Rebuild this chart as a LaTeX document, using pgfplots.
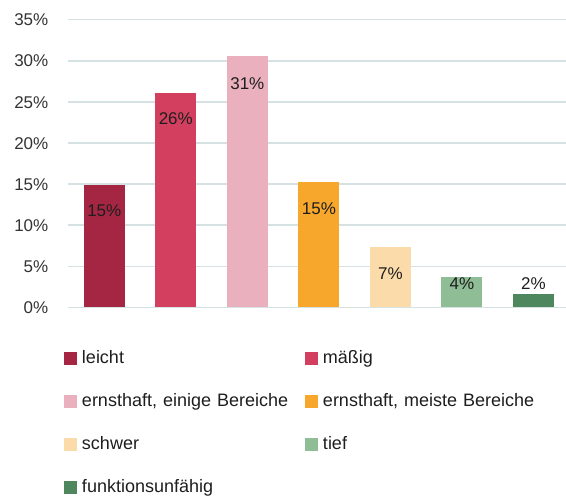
\documentclass[border=0pt]{standalone}
\usepackage{fontspec}
\setmainfont{Liberation Sans}
\usepackage{pgfplots}
\pgfplotsset{compat=1.18}
\definecolor{cA}{HTML}{A52642}
\definecolor{cB}{HTML}{D3405F}
\definecolor{cC}{HTML}{EBB0BE}
\definecolor{cD}{HTML}{F7A72C}
\definecolor{cE}{HTML}{FCDBAA}
\definecolor{cF}{HTML}{8FBE96}
\definecolor{cG}{HTML}{4E875E}
\definecolor{gridc}{HTML}{D5E1E2}
\definecolor{tickc}{HTML}{333333}
\definecolor{labc}{HTML}{1E1E1E}
\pgfplotsset{
  mybar/.style={ybar, bar width=41pt, bar shift=0pt, draw=none, fill=#1,
    legend image code/.code={\fill[##1, draw=none] (0pt,-6.5pt) rectangle (13pt,6.5pt);}},
}
\begin{document}
\begin{tikzpicture}
\useasboundingbox (0,0) rectangle (566pt,498pt);
\begin{axis}[
  at={(68.5pt,190.5pt)}, anchor=south west,
  scale only axis, width=497.5pt, height=287.8pt,
  xmin=-0.5, xmax=6.455, ymin=0, ymax=35,
  axis line style={draw=none},
  xtick=\empty,
  ytick={0,5,10,15,20,25,30,35},
  yticklabels={0\%,5\%,10\%,15\%,20\%,25\%,30\%,35\%},
  major tick length=0pt,
  ymajorgrids,
  grid style={gridc, line width=1.6pt},
  clip=false,
  yticklabel style={font=\fontsize{17}{17}\selectfont, text=tickc, anchor=east, inner sep=0pt, xshift=-20pt, text height=12.2pt, text depth=0pt},
  legend columns=2,
  legend cell align=left,
  legend style={at={(axis description cs:-0.00905,-0.1487)}, anchor=north west,
    draw=none, fill=none, inner sep=0pt, outer sep=0pt,
    row sep=25.6pt, column sep=5pt,
    font=\fontsize{18}{20}\selectfont, text=labc,
    nodes={inner sep=0pt, text width=223pt, align=left, text height=13pt, text depth=4.4pt, anchor=west},
    /tikz/every even column/.append style={column sep=0pt}},
]
\addplot[mybar=cA] coordinates {(0,14.9)};
\addlegendentry{leicht}
\addplot[mybar=cB] coordinates {(1,26.1)};
\addlegendentry{mäßig}
\addplot[mybar=cC] coordinates {(2,30.6)};
\addlegendentry{ernsthaft, einige Bereiche}
\addplot[mybar=cD] coordinates {(3,15.3)};
\addlegendentry{ernsthaft, meiste Bereiche}
\addplot[mybar=cE] coordinates {(4,7.4)};
\addlegendentry{schwer}
\addplot[mybar=cF] coordinates {(5,3.7)};
\addlegendentry{tief}
\addplot[mybar=cG] coordinates {(6,1.7)};
\addlegendentry{funktionsunfähig}
\addplot[draw=none, mark=none, forget plot,
  point meta=explicit symbolic,
  nodes near coords={\pgfplotspointmeta\%},
  nodes near coords align=center,
  every node near coord/.append style={font=\fontsize{17}{17}\selectfont, text=labc, anchor=center, inner sep=0pt, text height=12.2pt, text depth=0pt}]
  table[meta=lab] {
x y lab
0 11.8 15
1 23.0 26
2 27.3 31
3 12.0 15
4 4.2 7
5 2.95 4
6 2.95 2
};
\end{axis}
\end{tikzpicture}
\end{document}
